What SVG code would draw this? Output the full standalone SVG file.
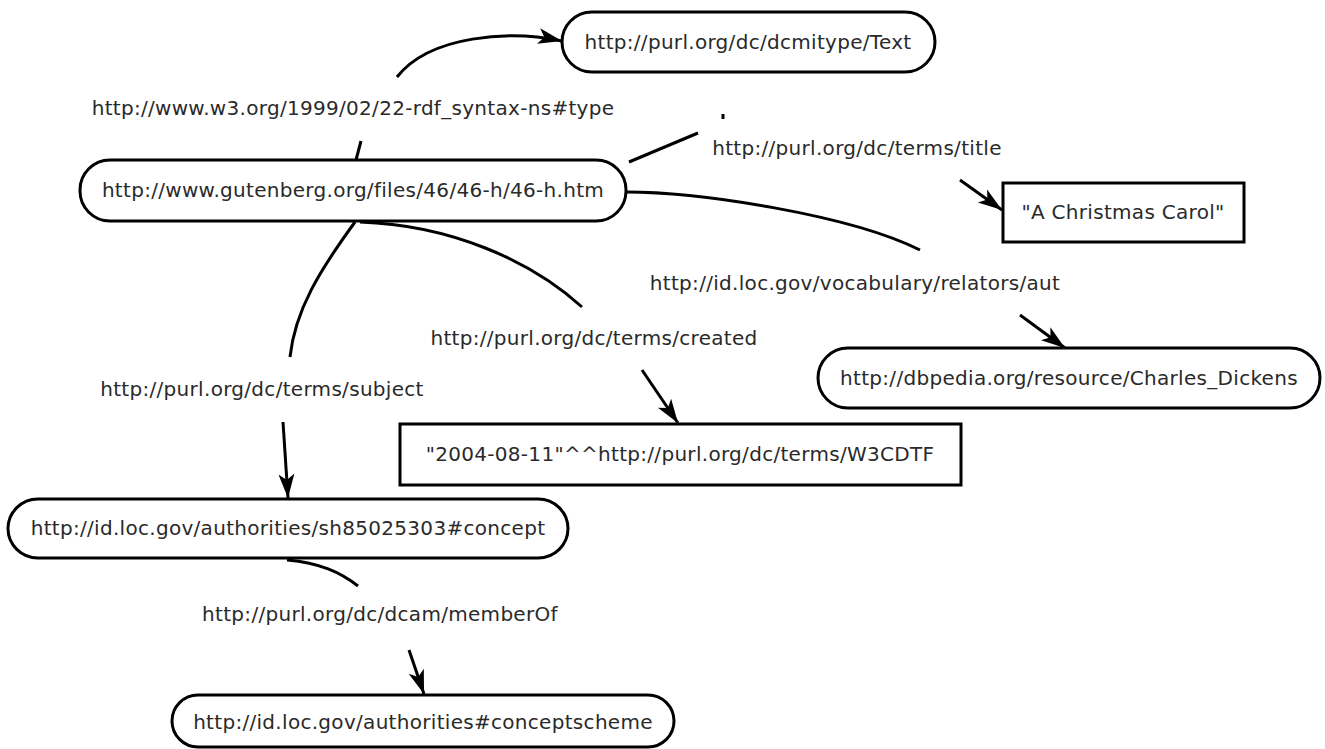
<svg xmlns="http://www.w3.org/2000/svg" width="1325" height="749" viewBox="0 0 1325 749">
<style>
.node{fill:#fff;stroke:#000;stroke-width:3}
.t{font-family:"DejaVu Sans",sans-serif;font-size:20px;fill:#2a2a2a;text-anchor:middle;letter-spacing:0.3px}
.e{fill:none;stroke:#000;stroke-width:3}
</style>
<defs>
<marker id="arr" markerUnits="userSpaceOnUse" markerWidth="26" markerHeight="18" viewBox="0 0 26 18" refX="24" refY="9" orient="auto">
<path d="M0,1 L24,9 L0,17 L6,9 Z" fill="#000"/>
</marker>
</defs>
<rect width="1325" height="749" fill="#fff"/>
<g id="connectors">
<path class="e" d="M356,160 L361,141"/>
<path class="e" d="M397,77 C430,35 510,30 562,41" marker-end="url(#arr)"/>
<path class="e" d="M629,162 L698,133"/>
<path class="e" d="M723,114 L723,119" stroke-width="2"/>
<path class="e" d="M960,180 L1002,210" marker-end="url(#arr)"/>
<path class="e" d="M626,192 C700,192 850,215 920,250"/>
<path class="e" d="M1020,315 L1065,348" marker-end="url(#arr)"/>
<path class="e" d="M360,222 C450,225 530,260 582,307"/>
<path class="e" d="M642,370 L678,423" marker-end="url(#arr)"/>
<path class="e" d="M355,222 C320,270 295,310 290,357"/>
<path class="e" d="M283,422 L288,498" marker-end="url(#arr)"/>
<path class="e" d="M287,560 C320,563 340,572 358,586"/>
<path class="e" d="M409,650 L424,694" marker-end="url(#arr)"/>
<text class="t" x="353" y="115">http://www.w3.org/1999/02/22-rdf_syntax-ns#type</text>
<text class="t" x="857" y="155">http://purl.org/dc/terms/title</text>
<text class="t" x="855" y="290">http://id.loc.gov/vocabulary/relators/aut</text>
<text class="t" x="594" y="345">http://purl.org/dc/terms/created</text>
<text class="t" x="262" y="396">http://purl.org/dc/terms/subject</text>
<text class="t" x="380" y="621">http://purl.org/dc/dcam/memberOf</text>
</g>
<g id="n-text">
<rect class="node" x="562" y="12" width="373" height="60" rx="30"/>
<text class="t" x="748" y="49">http://purl.org/dc/dcmitype/Text</text>
</g>
<g id="n-gutenberg">
<rect class="node" x="80" y="160" width="546" height="61" rx="30"/>
<text class="t" x="353" y="197">http://www.gutenberg.org/files/46/46-h/46-h.htm</text>
</g>
<g id="n-carol">
<rect class="node" x="1003" y="183" width="241" height="59"/>
<text class="t" x="1123" y="219">"A Christmas Carol"</text>
</g>
<g id="n-dickens">
<rect class="node" x="818" y="348" width="502" height="60" rx="30"/>
<text class="t" x="1069" y="385">http://dbpedia.org/resource/Charles_Dickens</text>
</g>
<g id="n-date">
<rect class="node" x="400" y="424" width="561" height="61"/>
<text class="t" x="680" y="461">"2004-08-11"^^http://purl.org/dc/terms/W3CDTF</text>
</g>
<g id="n-concept">
<rect class="node" x="8" y="499" width="560" height="59" rx="30"/>
<text class="t" x="288" y="535">http://id.loc.gov/authorities/sh85025303#concept</text>
</g>
<g id="n-scheme">
<rect class="node" x="172" y="695" width="502" height="52" rx="26"/>
<text class="t" x="423" y="729">http://id.loc.gov/authorities#conceptscheme</text>
</g>
</svg>
